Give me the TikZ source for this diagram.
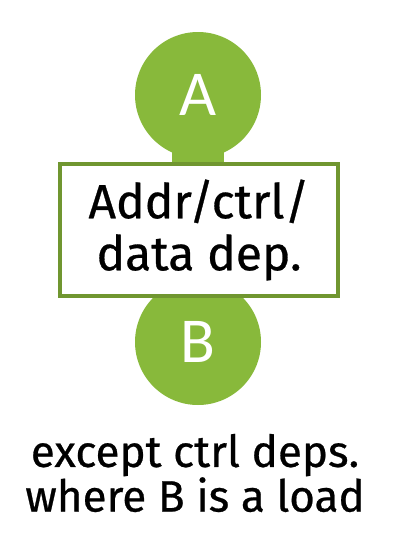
\documentclass[tikz,border=0pt]{standalone}
\usepackage{fontspec}
\setmainfont{Fira Sans}[UprightFeatures={FakeBold=0.6}]
\newfontfamily\circfont{Carlito}
\definecolor{ngreen}{RGB}{136,185,59}
\definecolor{nborder}{RGB}{112,150,48}
\tikzset{
  ball/.style={circle, fill=ngreen, minimum size=126pt, inner sep=0pt, text=white, font=\circfont\fontsize{64}{64}\selectfont},
  depbox/.style={draw=nborder, line width=3.5pt, fill=white, minimum width=278pt, minimum height=132pt, align=center, font=\fontsize{48}{52}\selectfont},
  stem/.style={ngreen, line width=52pt},
  note/.style={align=center, font=\fontsize{44}{39}\selectfont}
}
\begin{document}
\begin{tikzpicture}[x=1pt,y=-1pt]
\useasboundingbox (0,0) rectangle (402,538);
\draw[stem] (198,95) -- (198,342);
\node[ball] (A) at (198,95) {A};
\node[ball] (B) at (198,342) {B};
\node[depbox] (D) at (199,230) {Addr/ctrl/\\data dep.};
\node[note] (N) at (195,473) {except ctrl deps.\\where B is a load};
\end{tikzpicture}
\end{document}
